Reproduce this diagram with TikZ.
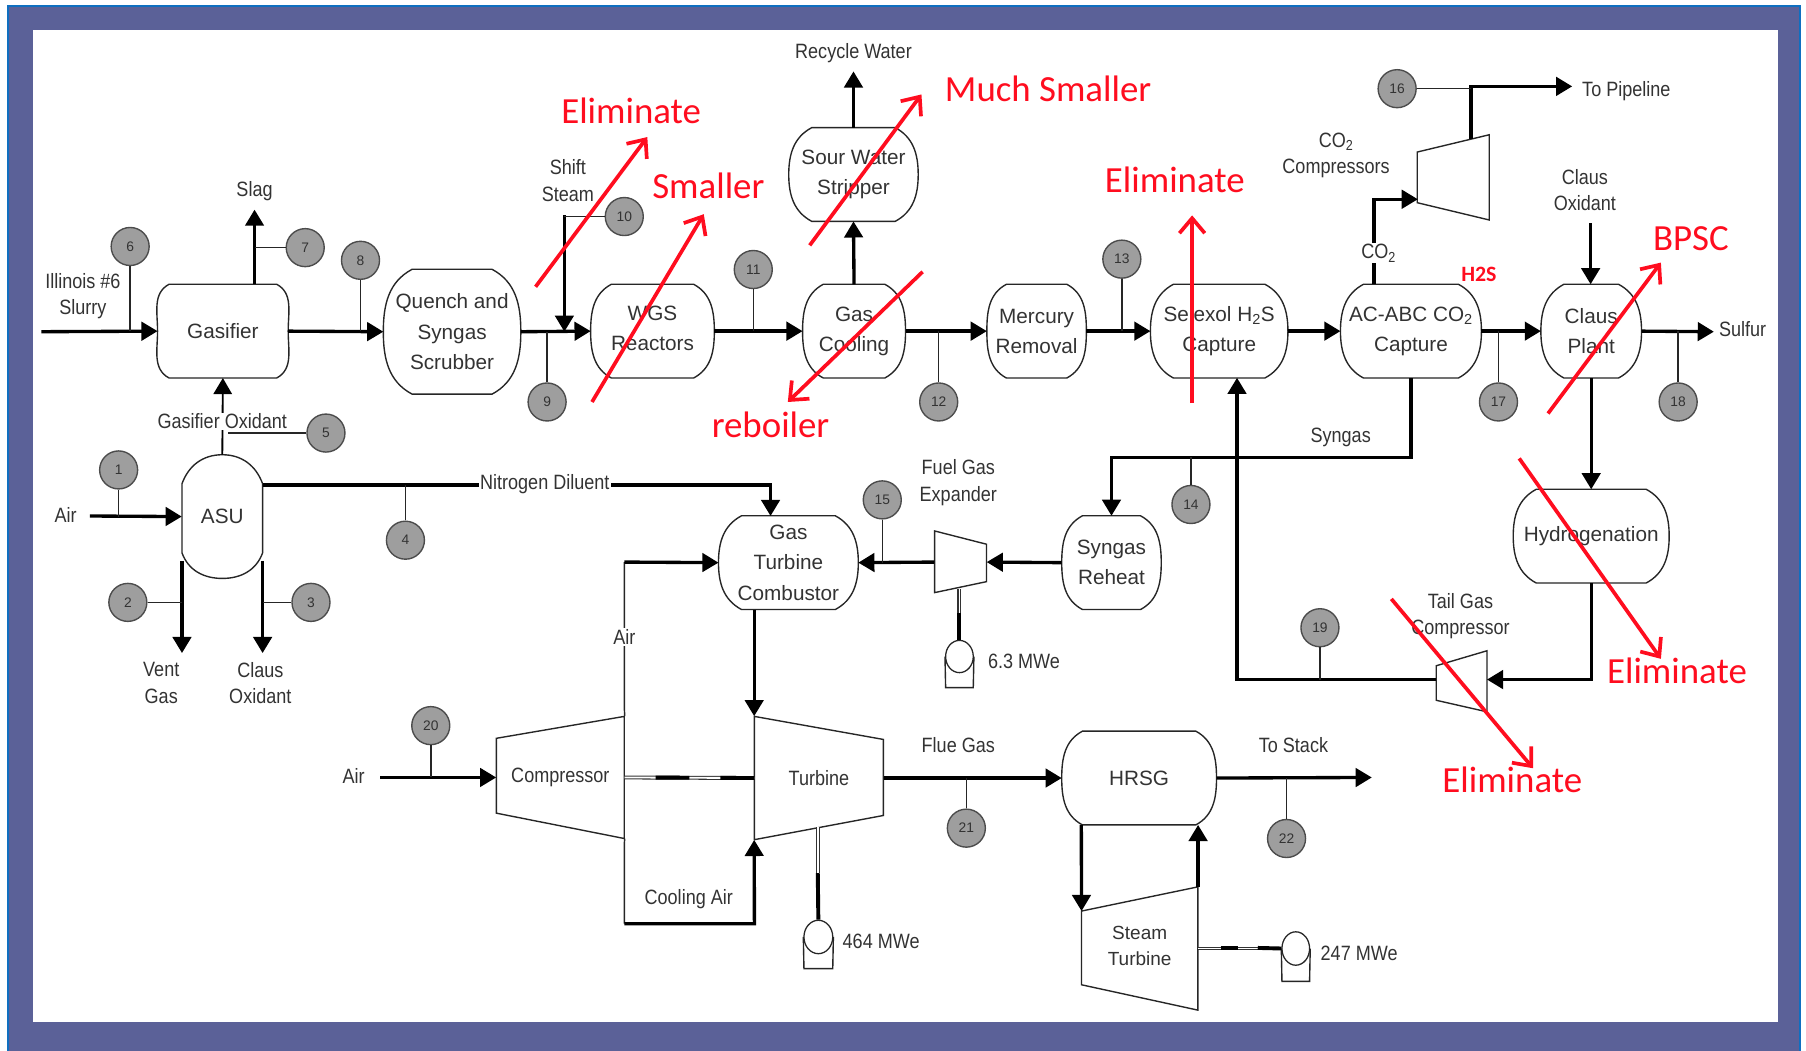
\documentclass[tikz,border=0pt]{standalone}
\usepackage{fontspec}
\usepackage{xcolor}
\setmainfont{Liberation Sans}
\newfontfamily\notefont{Carlito}
\newfontfamily\narrowfont[FakeStretch=0.87]{Liberation Sans}
\usetikzlibrary{arrows.meta,calc,shapes.geometric}
\definecolor{FrameBlue}{HTML}{5B6198}
\definecolor{EdgeBlue}{HTML}{0F6FC0}
\definecolor{Ink}{HTML}{333333}
\definecolor{NoteRed}{HTML}{FF0D1F}
\newcommand{\diagfont}{\fontsize{18}{26.3}\selectfont}
\newcommand{\tagfont}{\narrowfont\fontsize{18}{23}\selectfont}
\newcommand{\smallfont}{\fontsize{16.5}{23}\selectfont}

\begin{document}
\begin{tikzpicture}[x=1pt,y=-1pt,
  vline/.style={draw=black!85,line width=1.2pt},
  vessel/.style={rectangle,inner sep=0pt,align=center,text=Ink,font=\diagfont,minimum height=81pt,
    append after command={\pgfextra{\draw[vline]
      ([xshift=#1]\tikzlastnode.north west) -- ([xshift=-#1]\tikzlastnode.north east)
      to[out=-28,in=90] (\tikzlastnode.east)
      to[out=-90,in=28] ([xshift=-#1]\tikzlastnode.south east)
      -- ([xshift=#1]\tikzlastnode.south west)
      to[out=152,in=-90] (\tikzlastnode.west)
      to[out=90,in=-152] ([xshift=#1]\tikzlastnode.north west) -- cycle;}}},
  machine/.style={rectangle,inner sep=0pt,align=center,text=Ink,font=\tagfont},
  lbl/.style={inner sep=1pt,align=center,text=Ink,font=\tagfont},
  cutlbl/.style={lbl,fill=white},
  stream/.style={circle,draw=black!70,line width=1.2pt,fill=black!38,minimum size=33pt,inner sep=0pt,text=black!80,font=\fontsize{12}{14}\selectfont},
  flow/.style={-{Triangle[length=14pt,width=16pt]},draw=black,line width=2.9pt},
  pipe/.style={draw=black,line width=2.9pt},
  tap/.style={draw=black!85,line width=1.3pt},
  shaft/.style={draw=black!80,line width=0.9pt,double=white,double distance=1.6pt},
  shaftfill/.style={draw=black,line width=3.4pt},
  gen/.style={ellipse,draw=black!85,line width=1.1pt,inner sep=0pt},
  note/.style={inner sep=0pt,text=NoteRed,font=\notefont\fontsize{32}{36}\selectfont},
  notearr/.style={-{Straight Barb[length=13pt,width=22pt,line width=3.2pt]},draw=NoteRed,line width=3.2pt}
]
\useasboundingbox (0,0) rectangle (1568,912);
% frame
\fill[FrameBlue,draw=EdgeBlue,line width=2pt] (7,5) rectangle (1563,920);
\fill[white] (29,26) rectangle (1544,887);

% process units
\node[vessel=10pt,minimum width=113pt] (gasifier) at (193.5,287.5) {Gasifier};
\node[vessel=25pt,minimum width=119pt,minimum height=108pt] (quench) at (392.5,288) {Quench and\\Syngas\\Scrubber};
\node[vessel=18pt,minimum width=107pt] (wgs) at (566.5,287.5) {\raisebox{5pt}{WGS}\\\raisebox{5pt}{Reactors}};
\node[vessel=18pt,minimum width=89pt] (gascool) at (741.5,287.5) {Gas\\Cooling};
\node[vessel=20pt,minimum width=112pt] (sour) at (741,151.5) {Sour Water\\Stripper};
\node[vessel=17pt,minimum width=86pt] (mercury) at (900,287.5) {Mercury\\Removal};
\node[vessel=20pt,minimum width=119pt] (selexol) at (1058.5,287.5) {Selexol H\textsubscript{2}S\\Capture};
\node[vessel=20pt,minimum width=122pt] (acabc) at (1225,287.5) {AC-ABC CO\textsubscript{2}\\Capture};
\node[vessel=20pt,minimum width=87pt] (claus) at (1381.5,287.5) {Claus\\Plant};
\node[vessel=20pt,minimum width=135pt] (hydro) at (1381.5,465.5) {Hydrogenation};
\node[vessel=20pt,minimum width=121pt] (comb) at (684.5,488.5) {Gas\\Turbine\\Combustor};
\node[vessel=18pt,minimum width=86pt] (reheat) at (965,488.5) {Syngas\\Reheat};
\node[vessel=18pt,minimum width=134pt] (hrsg) at (989,675.5) {HRSG};

\node[machine,minimum width=70pt,minimum height=107pt,font=\diagfont] (asu) at (193,448.5) {ASU};
\draw[vline] (158,420) to[out=70,in=180] (asu.north) to[out=0,in=110] (228,420) -- (228,480) to[out=-110,in=0] (asu.south) to[out=180,in=-70] (158,480) -- cycle;

\node[machine,minimum width=111pt,minimum height=106pt] (comp) at (486.5,675) {Compressor};
\draw[vline] (431,641) -- (542,622) -- (542,728) -- (431,706) -- cycle;
\node[machine,minimum width=112pt,minimum height=107pt] (turb) at (711,675.5) {Turbine};
\draw[vline] (655,622) -- (767,642) -- (767,708) -- (655,729) -- cycle;
\node[machine,minimum width=101pt,minimum height=103pt,font=\smallfont] (steam) at (989.5,821.5) {Steam\\Turbine};
\draw[vline] (939,791) -- (1040,770) -- (1040,877) -- (939,855) -- cycle;
\node[machine,minimum width=45pt,minimum height=54pt] (expander) at (834,488) {};
\draw[vline] (811.5,461) -- (856.5,472.5) -- (856.5,505) -- (811.5,514.5) -- cycle;
\node[machine,minimum width=63pt,minimum height=74pt] (co2comp) at (1262,154) {};
\draw[vline] (1230.5,132) -- (1293,117) -- (1293,191) -- (1230.5,176) -- cycle;
\node[machine,minimum width=44pt,minimum height=53pt] (tailcomp) at (1269,591) {};
\draw[vline] (1247,578) -- (1291,565) -- (1291,618) -- (1247,608) -- cycle;

% generators
\node[gen,minimum width=24pt,minimum height=28pt] (gen63) at (833,570) {};
\draw[vline] (gen63.west) -- (821,597) -- (845,597) -- (gen63.east);
\node[gen,minimum width=25pt,minimum height=29pt] (gen464) at (710.5,813.5) {};
\draw[vline] (gen464.west) -- (698,841) -- (723,841) -- (gen464.east);
\node[gen,minimum width=24pt,minimum height=29pt] (gen247) at (1125,823.5) {};
\draw[vline] (gen247.west) -- (1113,852) -- (1137,852) -- (gen247.east);

% stream numbers
\node[stream] (s1) at (103,408) {1};
\node[stream] (s2) at (111,523) {2};
\node[stream] (s3) at (270,523) {3};
\node[stream] (s4) at (352,469) {4};
\node[stream] (s5) at (283,376) {5};
\node[stream] (s6) at (113,214) {6};
\node[stream] (s7) at (265,215) {7};
\node[stream] (s8) at (313,226) {8};
\node[stream] (s9) at (475,349) {9};
\node[stream] (s10) at (542,188) {10};
\node[stream] (s11) at (654,234) {11};
\node[stream] (s12) at (815,349) {12};
\node[stream] (s13) at (974,225) {13};
\node[stream] (s14) at (1034,438) {14};
\node[stream] (s15) at (766,434) {15};
\node[stream] (s16) at (1213,77) {16};
\node[stream] (s17) at (1301,349) {17};
\node[stream] (s18) at (1457,349) {18};
\node[stream] (s19) at (1146,545) {19};
\node[stream] (s20) at (374,630) {20};
\node[stream] (s21) at (839,719) {21};
\node[stream] (s22) at (1117,728) {22};

% free ends
\coordinate (slurryin) at (36,288);
\coordinate (airin) at (78,448);
\coordinate (slagout) at (221,182);
\coordinate (slagbase) at (221,247);
\coordinate (ventbase) at (158,487);
\coordinate (ventout) at (158,567);
\coordinate (clausbase) at (228,487);
\coordinate (clausout) at (228,567);
\coordinate (shiftin) at (490,187);
\coordinate (shiftend) at (490,288);
\coordinate (waterout) at (741,62);
\coordinate (sulfurout) at (1488,288);
\coordinate (oxin) at (1381,194);
\coordinate (co2base) at (1193,247);
\coordinate (co2turn) at (1193,173);
\coordinate (co2end) at (1231,173);
\coordinate (pipebase) at (1277,121);
\coordinate (pipeturn) at (1277,75);
\coordinate (pipeout) at (1365,75);
\coordinate (syngasturn) at (1225,397);
\coordinate (reheatturn) at (965,397);
\coordinate (hydroturn) at (1381.5,590);
\coordinate (tailin) at (1291,590);
\coordinate (tailout) at (1247,590);
\coordinate (tailturn) at (1074,590);
\coordinate (selexolin) at (1074,328);
\coordinate (nitroturn) at (669,421);
\coordinate (nitroend) at (669,448);
\coordinate (asuout) at (228,421);
\coordinate (airturn) at (542,488);
\coordinate (coolturnl) at (542,802);
\coordinate (coolturnr) at (655,802);
\coordinate (airleft) at (330,675);
\coordinate (stackout) at (1191,675);
\coordinate (oxtap) at (198,376);

% connectors
\draw[flow] (slurryin) -- (gasifier.west);
\draw[flow] (gasifier.east) -- (quench.west);
\draw[flow] (quench.east) -- (wgs.west);
\draw[flow] (wgs.east) -- (gascool.west);
\draw[flow] (gascool.east) -- (mercury.west);
\draw[flow] (mercury.east) -- (selexol.west);
\draw[flow] (selexol.east) -- (acabc.west);
\draw[flow] (acabc.east) -- (claus.west);
\draw[flow] (claus.east) -- (sulfurout);
\draw[flow] (slagbase) -- (slagout);
\draw[flow] (shiftin) -- (shiftend);
\draw[flow] (gascool.north) -- (sour.south);
\draw[flow] (sour.north) -- (waterout);
\draw[flow] (oxin) -- (oxin |- claus.north);
\draw[flow] (claus.south) -- (hydro.north);
\draw[flow] (hydro.south) -- (hydroturn) -- (tailin);
\draw[flow] (tailout) -- (tailturn) -- (selexolin);
\draw[flow] (acabc.south) -- (syngasturn) -- (reheatturn) -- (reheat.north);
\draw[flow] (reheat.west) -- (expander.east);
\draw[flow] (expander.west) -- (comb.east);
\draw[flow] (co2base) -- (co2turn) -- (co2end);
\draw[flow] (pipebase) -- (pipeturn) -- (pipeout);
\draw[flow] (airin) -- (asu.west);
\draw[flow] (ventbase) -- (ventout);
\draw[flow] (clausbase) -- (clausout);
\draw[flow,line width=1.6pt] (asu.north) -- (gasifier.south);
\draw[flow] (asuout) -- (nitroturn) -- (nitroend);
\draw[flow] (comb.south -| turb.north west) -- (turb.north west);
\draw[tap] (comp.north east) -- (airturn);
\draw[flow] (airturn) -- (comb.west);
\draw[tap] (comp.south east) -- (coolturnl);
\draw[flow] (coolturnl) -- (coolturnr) -- (turb.south west);
\draw[flow] (airleft) -- (comp.west);
\draw[flow] (turb.east) -- (hrsg.west);
\draw[flow] (hrsg.east) -- (stackout);
\draw[flow] (hrsg.south -| steam.north west) -- (939,791);
\draw[flow] (steam.north east) -- (hrsg.south -| steam.north east);

% stream taps
\draw[tap] (s1) -- (s1 |- asu.west);
\draw[tap] (s2) -- (ventbase |- s2);
\draw[tap] (s3) -- (clausbase |- s3);
\draw[tap] (s4) -- (s4 |- asuout);
\draw[tap] (s5) -- (oxtap);
\draw[tap] (s6) -- (s6 |- gasifier.west);
\draw[tap] (s7) -- (slagbase |- s7);
\draw[tap] (s8) -- (s8 |- gasifier.east);
\draw[tap] (s9) -- (s9 |- quench.east);
\draw[tap] (s10) -- (shiftin |- s10);
\draw[tap] (s11) -- (s11 |- wgs.east);
\draw[tap] (s12) -- (s12 |- gascool.east);
\draw[tap] (s13) -- (s13 |- mercury.east);
\draw[tap] (s14) -- (s14 |- reheatturn);
\draw[tap] (s15) -- (s15 |- comb.east);
\draw[tap] (s16) -- (pipeturn |- s16);
\draw[tap] (s17) -- (s17 |- acabc.east);
\draw[tap] (s18) -- (s18 |- claus.east);
\draw[tap] (s19) -- (s19 |- tailout);
\draw[tap] (s20) -- (s20 |- airleft);
\draw[tap] (s21) -- (s21 |- turb.east);
\draw[tap] (s22) -- (s22 |- hrsg.east);

% shafts
\draw[shaft] (comp.east) -- (turb.west);
\draw[shaftfill] ($(comp.east)!0.24!(turb.west)$) -- ($(comp.east)!0.50!(turb.west)$);
\draw[shaftfill] ($(comp.east)!0.74!(turb.west)$) -- (turb.west);
\draw[shaft] (gen464.north |- turb.south) ++(0,-11) -- ++(0,40);
\draw[shaftfill] (710,758) -- (gen464.north);
\draw[shaft] (833,511) -- (833,532);
\draw[shaftfill] (833,532) -- (gen63.north);
\draw[shaft] (steam.east |- gen247.west) -- (gen247.west);
\draw[shaftfill] (1060,823) -- (1075,823);
\draw[shaftfill] (1092,823) -- (gen247.west);

% labels
\node[lbl] (lslurry) at (72,257) {Illinois \#6\\Slurry};
\node[lbl] (lslag) at (221,166) {Slag};
\node[lbl] (lshift) at (493,157) {Shift\\Steam};
\node[lbl] (lwater) at (741,46) {Recycle Water};
\node[cutlbl] (loxid) at (193,366) {Gasifier Oxidant};
\node[lbl] (lair1) at (57,447) {Air};
\node[lbl] (lvent) at (140,593) {Vent\\Gas};
\node[lbl] (lclaus1) at (226,593) {Claus\\Oxidant};
\node[cutlbl] (lnitro) at (473,420) {Nitrogen Diluent};
\node[cutlbl] (lair2) at (542,553) {Air};
\node[lbl] (lair3) at (307,674) {Air};
\node[lbl] (lcool) at (598,781) {Cooling Air};
\node[lbl] (lfuel) at (832,419) {Fuel Gas\\Expander};
\node[lbl] (l63) at (889,574) {6.3 MWe};
\node[lbl] (l464) at (765,817) {464 MWe};
\node[lbl] (l247) at (1180,828) {247 MWe};
\node[lbl] (lflue) at (832,647) {Flue Gas};
\node[lbl] (lstack) at (1123,647) {To Stack};
\node[lbl] (lsyngas) at (1164,380) {Syngas};
\node[lbl] (ltail) at (1268,535) {Tail Gas\\Compressor};
\node[lbl] (lco2comp) at (1160,135) {CO\textsubscript{2}\\Compressors};
\node[cutlbl] (lco2) at (1197,220) {CO\textsubscript{2}};
\node[lbl] (lpipe) at (1412,79) {To Pipeline};
\node[lbl] (lclaus2) at (1376,165) {Claus\\Oxidant};
\node[lbl] (lsulfur) at (1513,286) {Sulfur};

% red notes
\coordinate (n1a) at (465,249);
\coordinate (n1b) at (562,119);
\coordinate (n2a) at (514,349);
\coordinate (n2b) at (611,186);
\coordinate (n3a) at (703,213);
\coordinate (n3b) at (800,82);
\coordinate (n4a) at (801,236);
\coordinate (n4b) at (684,349);
\coordinate (n5a) at (1035,350);
\coordinate (n5b) at (1035,187);
\coordinate (n6a) at (1344,359);
\coordinate (n6b) at (1442,228);
\coordinate (n7a) at (1319,398);
\coordinate (n7b) at (1442,572);
\coordinate (n8a) at (1208,520);
\coordinate (n8b) at (1331,667);
\draw[notearr] (n1a) -- (n1b);
\draw[notearr] (n2a) -- (n2b);
\draw[notearr] (n3a) -- (n3b);
\draw[notearr] (n4a) -- (n4b);
\draw[notearr] (n5a) -- (n5b);
\draw[notearr] (n6a) -- (n6b);
\draw[notearr] (n7a) -- (n7b);
\draw[notearr] (n8a) -- (n8b);
\node[note] (t1) at (548,96) {Eliminate};
\node[note] (t2) at (615,161) {Smaller};
\node[note] (t3) at (910,77) {Much Smaller};
\node[note] (t4) at (669,369) {reboiler};
\node[note] (t5) at (1020,156) {Eliminate};
\node[note] (t6) at (1468,207) {BPSC};
\node[note] (t7) at (1456,582) {Eliminate};
\node[note] (t8) at (1313,677) {Eliminate};
\node[inner sep=0pt,text=NoteRed,font=\notefont\bfseries\fontsize{19}{22}\selectfont] (t9) at (1284,238) {H2S};
\end{tikzpicture}
\end{document}
